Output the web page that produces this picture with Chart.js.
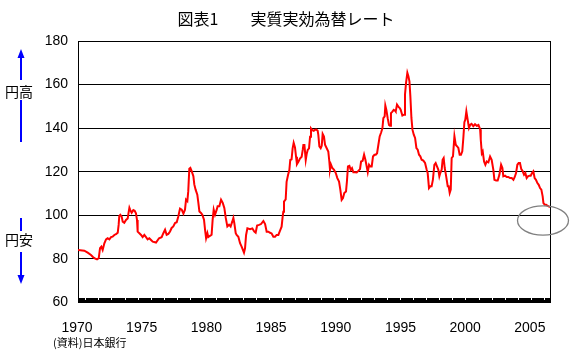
<!DOCTYPE html>
<html><head><meta charset="utf-8">
<script src="https://cdn.jsdelivr.net/npm/chart.js@4.4.1/dist/chart.umd.min.js"></script>
<style>html,body{margin:0;padding:0;background:#fff}canvas{display:block}</style>
</head><body>
<canvas id="c" width="572" height="354"></canvas>
<script>
const years = [
1970.00,1970.48,1970.74,1970.99,1971.12,1971.25,1971.45,1971.58,1971.68,1971.78,1971.88,
1972.01,1972.14,1972.26,1972.39,1972.52,1972.64,1972.77,1972.90,1973.03,1973.10,1973.15,1973.23,
1973.33,1973.41,1973.53,1973.66,1973.79,1973.87,1973.92,1973.99,1974.09,1974.22,1974.32,1974.42,
1974.50,1974.55,1974.68,1974.81,1974.93,1975.06,1975.19,1975.31,1975.44,1975.57,1975.70,1975.95,
1976.18,1976.38,1976.51,1976.64,1976.76,1976.89,1977.02,1977.14,1977.27,1977.40,1977.53,1977.65,
1977.78,1977.91,1978.04,1978.16,1978.24,1978.34,1978.41,1978.49,1978.57,1978.67,1978.80,1978.87,
1978.97,1979.10,1979.18,1979.26,1979.38,1979.48,1979.61,1979.69,1979.77,1979.87,1979.94,1980.07,
1980.19,1980.27,1980.35,1980.45,1980.58,1980.65,1980.78,1980.91,1981.04,1981.16,1981.27,1981.39,
1981.52,1981.64,1981.77,1981.85,1981.92,1982.03,1982.10,1982.23,1982.36,1982.48,1982.66,1982.74,
1982.82,1982.92,1983.12,1983.30,1983.45,1983.55,1983.66,1983.81,1983.96,1984.14,1984.27,1984.39,
1984.52,1984.65,1984.77,1984.90,1985.03,1985.15,1985.28,1985.41,1985.53,1985.61,1985.66,1985.71,
1985.84,1985.91,1986.02,1986.12,1986.19,1986.29,1986.37,1986.45,1986.55,1986.63,1986.70,1986.81,
1986.93,1987.06,1987.14,1987.19,1987.27,1987.37,1987.45,1987.52,1987.62,1987.70,1987.77,1987.87,
1987.98,1988.08,1988.18,1988.28,1988.33,1988.41,1988.51,1988.59,1988.66,1988.76,1988.84,1988.97,
1989.09,1989.17,1989.22,1989.30,1989.40,1989.53,1989.66,1989.78,1989.91,1990.01,1990.11,1990.21,
1990.31,1990.44,1990.51,1990.59,1990.70,1990.80,1990.90,1991.00,1991.13,1991.26,1991.38,1991.51,
1991.59,1991.71,1991.82,1991.92,1992.02,1992.10,1992.20,1992.30,1992.40,1992.50,1992.61,1992.71,
1992.81,1992.91,1993.01,1993.12,1993.22,1993.29,1993.39,1993.44,1993.52,1993.62,1993.72,1993.80,
1993.87,1993.98,1994.08,1994.18,1994.23,1994.33,1994.43,1994.54,1994.61,1994.74,1994.87,1994.94,
1995.02,1995.12,1995.20,1995.28,1995.35,1995.43,1995.51,1995.61,1995.71,1995.81,1995.91,1996.01,
1996.11,1996.21,1996.34,1996.47,1996.59,1996.67,1996.77,1996.87,1996.97,1997.07,1997.18,1997.28,
1997.38,1997.48,1997.56,1997.63,1997.74,1997.81,1997.89,1997.97,1998.04,1998.12,1998.20,1998.27,
1998.35,1998.43,1998.50,1998.60,1998.71,1998.81,1998.91,1999.01,1999.11,1999.21,1999.31,1999.39,
1999.47,1999.54,1999.62,1999.72,1999.82,1999.92,2000.02,2000.15,2000.28,2000.41,2000.54,2000.67,
2000.72,2000.80,2000.87,2000.97,2001.07,2001.17,2001.30,2001.43,2001.55,2001.68,2001.76,2001.89,
2002.01,2002.14,2002.27,2002.37,2002.44,2002.57,2002.70,2002.82,2002.95,2003.08,2003.21,2003.31,
2003.41,2003.51,2003.61,2003.71,2003.81,2003.92,2004.02,2004.12,2004.22,2004.32,2004.43,2004.53,
2004.63,2004.73,2004.83,2004.93,2005.04,2005.14,2005.24,2005.34,2005.44,2005.50,2005.60,2005.70,
2005.80,2005.90,2006.00
];
const rates = [
84.1,83.8,82.9,81.8,81.0,80.3,79.8,80.3,84.9,85.6,84.1,
87.2,89.0,89.5,89.0,90.0,90.2,91.0,91.4,92.0,95.6,99.7,100.2,
99.4,97.1,96.6,97.9,98.6,101.7,103.5,102.4,101.2,102.4,102.1,100.9,
97.9,92.5,91.8,91.0,90.0,91.0,90.0,89.0,89.5,88.7,87.9,87.5,
89.5,90.0,91.8,93.4,91.1,91.5,92.6,94.2,94.9,96.5,96.8,99.5,
103.1,102.6,100.8,102.6,107.2,106.5,111.1,121.4,121.8,120.3,118.0,114.2,
111.8,109.5,105.7,101.8,101.1,100.3,98.0,93.4,89.5,91.8,90.0,90.6,
91.1,98.0,102.6,100.3,102.6,104.2,104.2,107.2,105.7,103.4,98.8,94.9,
95.7,94.9,97.2,98.8,96.5,91.8,91.0,90.2,87.2,85.6,82.9,84.9,
91.0,94.0,93.6,94.0,92.5,92.0,95.3,95.6,96.0,97.4,96.0,92.5,
92.5,92.0,91.7,90.2,90.2,91.0,91.0,93.0,94.8,99.4,101.7,106.3,
107.3,115.4,118.5,120.8,125.4,125.7,130.7,133.3,131.2,126.9,123.5,124.6,
126.1,126.9,130.0,132.3,132.3,125.4,128.4,130.0,130.7,136.1,139.9,139.1,
138.8,139.3,139.4,138.8,136.9,131.6,130.8,131.9,137.4,136.2,132.4,130.8,
129.3,124.7,120.9,123.2,121.7,120.9,119.4,117.1,115.5,111.7,107.1,107.9,
110.2,110.9,115.5,122.4,122.7,120.9,121.7,119.8,119.8,119.7,120.4,121.2,
124.7,125.0,127.8,125.5,122.4,119.8,123.2,122.4,122.4,127.0,127.8,127.8,
128.5,132.4,136.2,138.0,140.0,144.6,145.4,150.4,148.4,144.6,141.5,141.1,
146.9,147.6,148.4,148.0,147.6,150.8,149.9,149.2,148.5,145.8,146.2,155.4,
160.8,165.4,163.8,161.5,154.6,144.7,139.3,137.0,135.5,130.9,130.1,127.8,
127.1,125.5,125.1,124.0,121.0,119.4,112.5,113.3,113.3,116.4,123.2,124.0,
122.5,121.0,117.9,119.4,121.0,125.5,126.3,121.7,119.4,116.4,113.3,113.3,
110.3,111.8,126.3,127.1,136.3,132.4,131.7,130.9,127.8,127.8,129.4,135.5,
142.7,143.9,147.7,143.9,140.1,141.6,142.0,140.9,141.8,141.1,141.5,139.5,
134.7,128.5,129.3,124.7,123.2,124.7,124.3,127.0,125.5,120.9,116.3,116.0,
116.0,118.6,123.2,121.7,117.9,118.2,117.6,117.6,117.1,117.1,116.3,117.6,
119.4,123.2,124.0,124.0,121.2,120.2,118.6,119.4,117.1,117.9,118.2,118.2,
119.4,120.2,117.1,116.3,114.8,114.0,112.5,111.8,108.7,105.6,104.9,104.9,
104.4,104.1,103.8
];
const yTicks = [60, 80, 100, 120, 140, 160, 180];
const xLabels = [1970, 1975, 1980, 1985, 1990, 1995, 2000, 2005];
const titleText = '図表1　　実質実効為替レート';
const sourceText = '(資料)日本銀行';
const upText = '円高';
const downText = '円安';

const deco = {
  id: 'deco',
  afterDraw(chart) {
    const { ctx, chartArea: a, scales } = chart;
    const xs = scales.x;
    ctx.save();
    // right border
    ctx.strokeStyle = '#000'; ctx.lineWidth = 1;
    const rx = Math.round(a.right) + 0.5;
    ctx.beginPath(); ctx.moveTo(rx, a.top); ctx.lineTo(rx, a.bottom); ctx.stroke();
    // thick bottom axis band with notches
    const b = Math.round(a.bottom);
    ctx.fillStyle = '#000';
    ctx.fillRect(Math.round(a.left), b - 5, Math.round(a.right) - Math.round(a.left) + 1, 5);
    ctx.fillStyle = '#fff';
    for (let k = 0; k < 36; k++) {
      const x = Math.round(xs.getPixelForValue(1970.55 + k));
      ctx.fillRect(x, b - 5, 1, 2);
    }
    // title
    ctx.fillStyle = '#000';
    ctx.font = "16px 'Noto Sans CJK JP'";
    ctx.textAlign = 'center'; ctx.textBaseline = 'middle';
    ctx.fillText(titleText, 286, 19);
    // side labels
    ctx.font = "14px 'Noto Sans CJK JP'";
    ctx.fillText(upText, 19, 92);
    ctx.fillText(downText, 19, 240);
    // source
    ctx.font = "11px 'Noto Sans CJK JP'";
    ctx.textAlign = 'left';
    ctx.fillText(sourceText, 53, 343);
    // arrows
    ctx.strokeStyle = '#0000FF'; ctx.fillStyle = '#0000FF'; ctx.lineWidth = 2;
    const ax = 21;
    ctx.beginPath();
    ctx.moveTo(ax, 56); ctx.lineTo(ax, 80);
    ctx.moveTo(ax, 100); ctx.lineTo(ax, 142);
    ctx.moveTo(ax, 218); ctx.lineTo(ax, 231);
    ctx.moveTo(ax, 252); ctx.lineTo(ax, 277);
    ctx.stroke();
    ctx.beginPath();
    ctx.moveTo(ax, 49); ctx.lineTo(ax - 3.5, 58); ctx.lineTo(ax + 3.5, 58); ctx.closePath();
    ctx.moveTo(ax, 284); ctx.lineTo(ax - 3.5, 275); ctx.lineTo(ax + 3.5, 275); ctx.closePath();
    ctx.fill();
    // ellipse
    ctx.strokeStyle = '#808080'; ctx.lineWidth = 1.3;
    ctx.beginPath();
    ctx.ellipse(543, 220.5, 25.5, 14.7, 0, 0, Math.PI * 2);
    ctx.stroke();
    ctx.restore();
  }
};

Chart.defaults.font.family = "'Liberation Sans', Arial, sans-serif";
Chart.defaults.color = '#000';

new Chart(document.getElementById('c'), {
  type: 'line',
  data: {
    datasets: [{
      xAxisID: 'x',
      data: years.map((x, i) => ({ x: x, y: rates[i] })),
      borderColor: '#FF0000',
      borderWidth: 2,
      pointRadius: 0,
      tension: 0,
      fill: false
    }]
  },
  options: {
    responsive: false,
    animation: false,
    layout: { padding: { top: 41, right: 22, left: 0, bottom: 0 } },
    plugins: { legend: { display: false }, tooltip: { enabled: false }, title: { display: false } },
    scales: {
      x: {
        type: 'linear', position: 'bottom', min: 1970, max: 2006,
        display: false
      },
      xl: {
        type: 'linear', position: 'bottom', min: 1970, max: 2006.48,
        afterFit: s => { s.height = 51.5; },
        afterBuildTicks: s => { s.ticks = xLabels.map(v => ({ value: v })); },
        ticks: { callback: v => String(v), font: { size: 14 }, padding: 9, labelOffset: -1, maxRotation: 0, autoSkip: false, color: '#000' },
        grid: { display: false },
        border: { display: false }
      },
      y: {
        min: 60, max: 180,
        afterFit: s => { s.width = 78; },
        afterBuildTicks: s => { s.ticks = yTicks.map(v => ({ value: v })); },
        ticks: { font: { size: 14 }, padding: 10, color: '#000' },
        grid: { color: '#000', lineWidth: 1, drawTicks: false },
        border: { display: true, color: '#000', width: 1 }
      }
    }
  },
  plugins: [deco]
});
</script>
</body></html>
